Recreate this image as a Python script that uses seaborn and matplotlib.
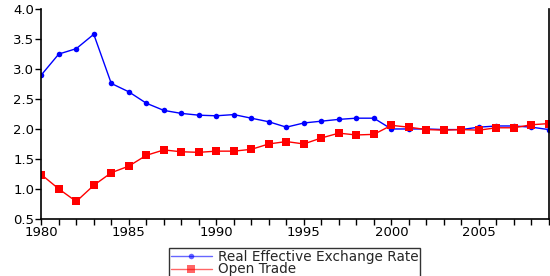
import numpy as np
import pandas as pd
import matplotlib
matplotlib.use("Agg")
import matplotlib.pyplot as plt
import seaborn as sns

# data
years = list(range(1980, 2010))
reer = [2.90, 3.25, 3.34, 3.58, 2.76, 2.62, 2.43, 2.31, 2.26, 2.23,
        2.22, 2.24, 2.18, 2.12, 2.03, 2.10, 2.13, 2.16, 2.18, 2.18,
        2.00, 2.00, 2.00, 1.99, 1.99, 2.03, 2.05, 2.05, 2.03, 1.99]
open_trade = [1.24, 1.00, 0.79, 1.06, 1.27, 1.38, 1.56, 1.65, 1.62, 1.61,
              1.63, 1.63, 1.66, 1.75, 1.79, 1.75, 1.85, 1.93, 1.90, 1.91,
              2.06, 2.03, 1.99, 1.98, 1.99, 1.98, 2.02, 2.02, 2.07, 2.09]
series_names = ["Real Effective Exchange Rate", "Open Trade"]

df = pd.DataFrame({"year": years, series_names[0]: reer, series_names[1]: open_trade})

sns.set_style("ticks")
plt.rcParams["font.family"] = ["DejaVu Sans"]

fig = plt.figure(figsize=(5.5, 2.76), dpi=100)
ax = fig.add_axes([0.075, 0.207, 0.923, 0.76])

sns.lineplot(data=df, x="year", y=series_names[0], ax=ax, color="#0000ff",
             marker="o", markersize=4, markeredgewidth=0, linewidth=1,
             label=series_names[0])
sns.lineplot(data=df, x="year", y=series_names[1], ax=ax, color="#ff0000",
             marker="s", markersize=5.5, markeredgewidth=0, linewidth=1,
             label=series_names[1])

ax.set_xlim(1980, 2009)
ax.set_ylim(0.5, 4.0)
ax.set_xticks(range(1980, 2010, 5))
ax.set_xticks(range(1980, 2010), minor=True)
ax.set_yticks(np.arange(0.5, 4.01, 0.5))
ax.set_yticklabels([f"{v:.1f}" for v in np.arange(0.5, 4.01, 0.5)])
ax.tick_params(axis="both", which="both", direction="out", length=4, width=1,
               labelsize=9.5, colors="black", pad=1)
ax.set_xlabel("")
ax.set_ylabel("")

for side in ["left", "bottom", "right"]:
    ax.spines[side].set_linewidth(1.2)
    ax.spines[side].set_color("black")
ax.spines["top"].set_visible(False)

leg = ax.legend(loc="upper center", bbox_to_anchor=(0.536, 0.1),
                bbox_transform=fig.transFigure, frameon=True, fancybox=False,
                fontsize=9.8, handlelength=3.0, borderpad=0.1,
                labelspacing=-0.1, handletextpad=0.5, borderaxespad=0)
leg.get_frame().set_edgecolor("black")
leg.get_frame().set_linewidth(1)
for h in leg.legend_handles:
    h.set_alpha(0.6)

fig.savefig("out.png", dpi=100)
